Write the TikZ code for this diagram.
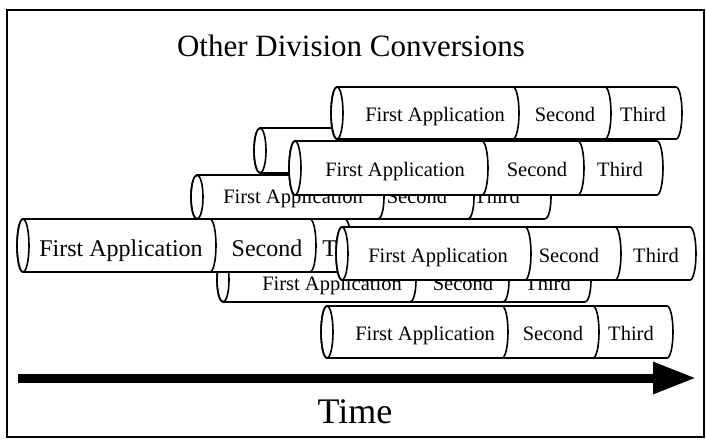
\documentclass[tikz,border=0pt]{standalone}
\usepackage{fontspec}
\setmainfont{Liberation Serif}
\usetikzlibrary{arrows.meta}

\begin{document}
\begin{tikzpicture}[
  x=1pt, y=-1pt,
  body/.style={draw, line width=1.6pt, fill=white, line join=round},
  rim/.style={draw, line width=1.6pt},
  lab/.style={anchor=base, inner sep=0pt},
  frame/.style={draw, line width=1.4pt},
  timearr/.style={-{Triangle[length=43pt, width=30pt]}, line width=9pt}
]
  \useasboundingbox (0,0) rectangle (706,442);

  % Frame and title
  \draw[frame] (7,10) rectangle (704,437);
  \node[font=\fontsize{31}{36}\selectfont] (title) at (351,46)
    {Other Division Conversions};

  % Cylinder hidden at the back
  \draw[body] (260,128) -- (600,128)
    arc[start angle=-90, end angle=90, x radius=6, y radius=22.5] -- (260,173)
    arc[start angle=90, end angle=270, x radius=6, y radius=22.5] -- cycle;
  \draw[rim] (260,150.5) ellipse [x radius=6, y radius=22.5];

  % Cylinders, back to front
  \foreach \n/\xo/\yt/\yb/\da/\db/\xe/\xa/\xb/\xc/\yl/\fs in {
      1/197/175/219/378/468/545/293/417/497/203/20.5,
      2/223/258/302/410/503/585/332/463/548/290/20.5,
      3/23/219/272/210/310/345/121/267/349/256/24,
      4/337/87/139/513/605/676/435/565/643/121/20.5,
      5/295/141/195/482/578/657/395/537/620/176/20.5,
      6/342/227/280/525/615/690/438/569/656/262/20.5,
      7/327/306/358/502/593/667/425/553/631/340/20.5} {
    \pgfmathsetmacro{\ry}{(\yb-\yt)/2}
    \pgfmathsetmacro{\ym}{(\yb+\yt)/2}
    \draw[body] (\xo,\yt) -- (\xe,\yt)
      arc[start angle=-90, end angle=90, x radius=6, y radius=\ry] -- (\xo,\yb)
      arc[start angle=90, end angle=270, x radius=6, y radius=\ry] -- cycle;
    \draw[rim] (\xo,\ym) ellipse [x radius=6, y radius=\ry];
    \draw[rim] (\da,\yt) arc[start angle=-90, end angle=90, x radius=6, y radius=\ry];
    \draw[rim] (\db,\yt) arc[start angle=-90, end angle=90, x radius=6, y radius=\ry];
    \node[lab, font=\fontsize{\fs}{\fs}\selectfont] (first\n) at (\xa,\yl) {First Application};
    \node[lab, font=\fontsize{\fs}{\fs}\selectfont] (second\n) at (\xb,\yl) {Second};
    \node[lab, font=\fontsize{\fs}{\fs}\selectfont] (third\n) at (\xc,\yl) {Third};
  }

  % Time axis
  \coordinate (t0) at (18,378);
  \coordinate (t1) at (696,378);
  \draw[timearr] (t0) -- (t1);
  \node[font=\fontsize{36}{40}\selectfont] (time) at (355,412) {Time};
\end{tikzpicture}
\end{document}
